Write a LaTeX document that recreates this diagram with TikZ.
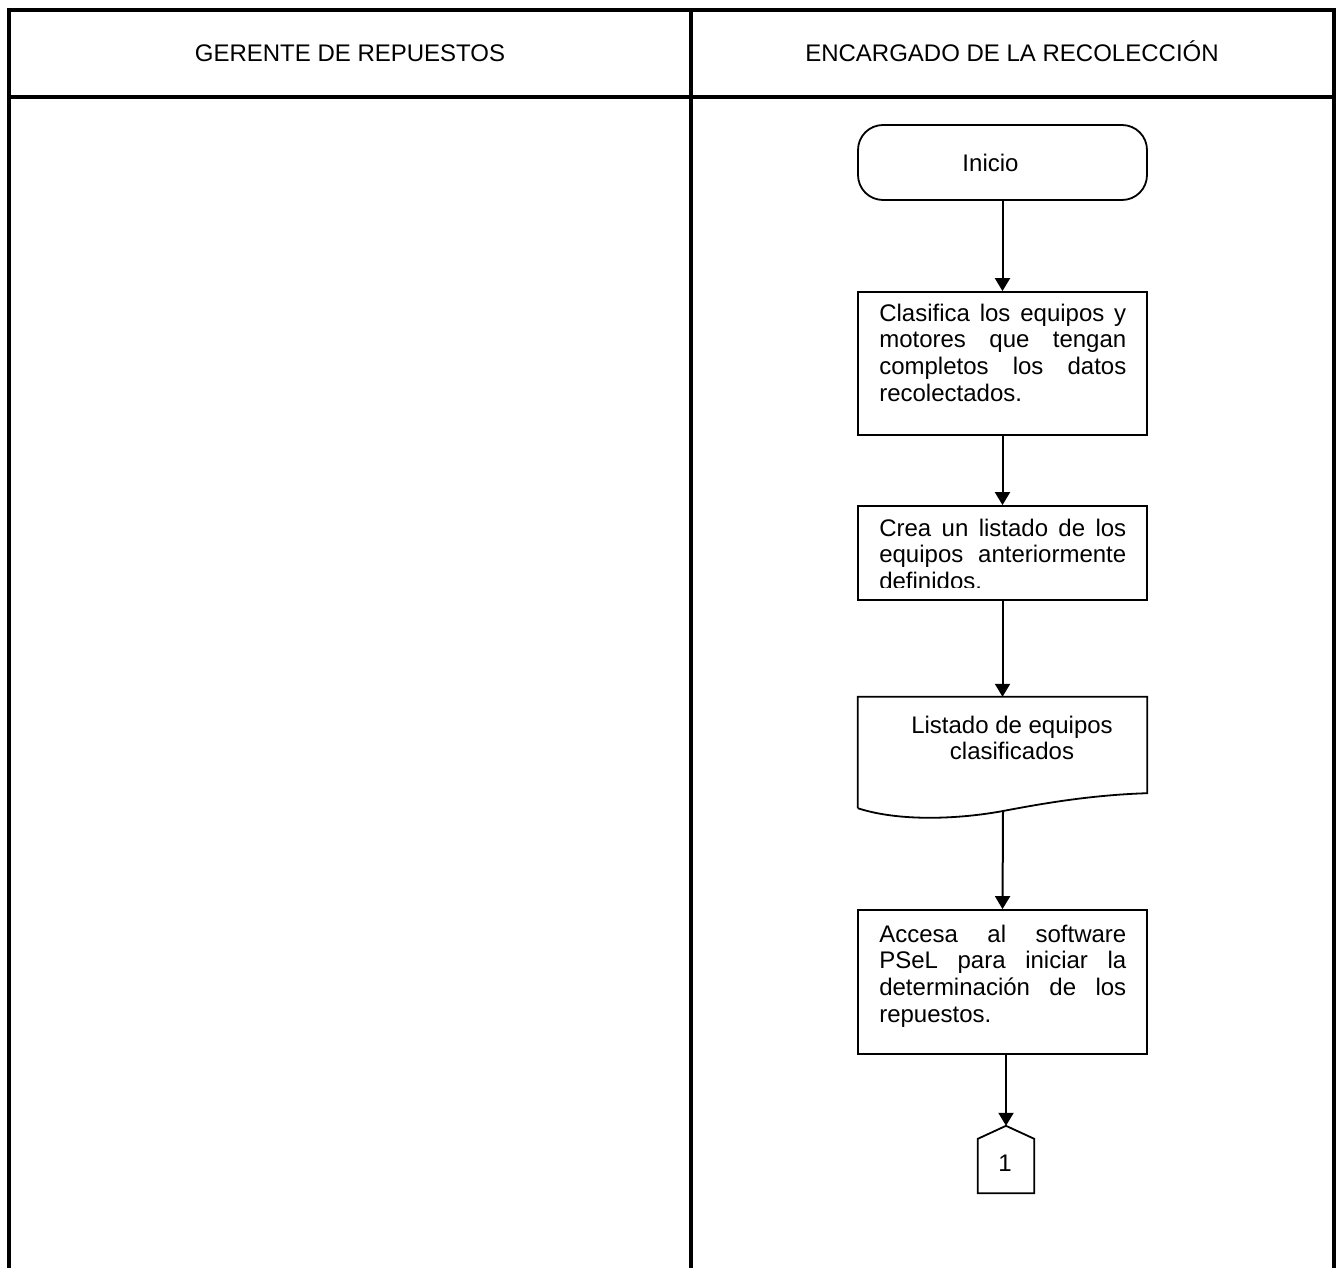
\documentclass[tikz,border=0pt]{standalone}
\usepackage{fontspec}
\setmainfont{Liberation Sans}
\usetikzlibrary{arrows.meta}

\tikzset{
  lane/.style={line width=4pt, line join=miter},
  procbox/.style={draw, line width=1.8pt, minimum width=289pt, minimum height=#1, inner sep=0pt},
  procbox/.default=100pt,
  boxtext/.style={inner sep=0pt, text width=247pt, align=justify, font=\fontsize{24}{26.7}\selectfont},
  flow/.style={line width=2pt, -{Triangle[width=15pt,length=13pt]}},
}

\begin{document}
\begin{tikzpicture}[x=1pt, y=-1pt, font=\fontsize{24}{26.7}\selectfont]
  \useasboundingbox (0,0) rectangle (1341,1268);

  % --- Swimlane table ---
  \draw[lane] (9,1268) -- (9,10) -- (1334,10) -- (1334,1268);
  \draw[lane] (9,97) -- (1334,97);
  \draw[lane] (691,10) -- (691,1268);
  \node[anchor=base] (gerente) at (350,62) {GERENTE DE REPUESTOS};
  \node[anchor=base] (encargado) at (1012,62) {ENCARGADO DE LA RECOLECCIÓN};

  % --- Flow in the right lane ---
  % Start terminal
  \node[procbox=75pt, rounded corners=25pt] (inicio) at (1002.5,162.5) {Inicio\hspace*{24pt}};

  % Process boxes
  \node[procbox=143pt] (clasifica) at (1002.5,363.5) {};
  \node[boxtext, anchor=base west] (clasificaT) at ([xshift=22pt,yshift=-30pt]clasifica.north west)
    {Clasifica los equipos y\linebreak motores que tengan\linebreak completos los datos\linebreak recolectados.};

  \node[procbox=94pt] (crea) at (1002.5,553) {};
  \begin{scope}
    % last line is cut off by the box
    \clip ([yshift=-1pt]crea.north west) rectangle ([yshift=13pt]crea.south east);
    \node[boxtext, anchor=base west] (creaT) at ([xshift=22pt,yshift=-31pt]crea.north west)
      {Crea un listado de los\linebreak equipos anteriormente\linebreak definidos.};
  \end{scope}

  % Document symbol
  \node[minimum width=289pt, minimum height=111pt, inner sep=0pt] (listado) at (1002.5,752.5) {};
  \draw[line width=1.8pt] (listado.south west) -- (listado.north west) -- (listado.north east)
    -- ([yshift=15pt]listado.south east)
    .. controls (1090,795) and (1040,804) .. (1003,811)
    .. controls (960,819) and (900,822) .. (listado.south west);
  \coordinate (listadoB) at (1003,811);
  \node[align=center] (listadoT) at (1012,738) {Listado de equipos\\clasificados};

  \node[procbox=144pt] (accesa) at (1002.5,982) {};
  \node[boxtext, anchor=base west] (accesaT) at ([xshift=22pt,yshift=-33pt]accesa.north west)
    {Accesa al software\linebreak PSeL para iniciar la\linebreak determinación de los\linebreak repuestos.};

  % Off-page connector
  \node[minimum width=56pt, minimum height=67pt, inner sep=0pt] (conector) at (1006,1159.5) {};
  \draw[line width=1.8pt] (conector.north) -- ([yshift=-13pt]conector.north east) -- (conector.south east)
    -- (conector.south west) -- ([yshift=-13pt]conector.north west) -- cycle;
  \node (uno) at (1005,1163) {1};

  % --- Connectors ---
  \draw[flow] (inicio) -- (clasifica);
  \draw[flow] (clasifica) -- (crea);
  \draw[flow] (crea) -- (listado);
  \draw[flow] (listadoB) -- (accesa.north);
  \draw[flow] (accesa.south -| conector.north) -- (conector.north);

\end{tikzpicture}
\end{document}
